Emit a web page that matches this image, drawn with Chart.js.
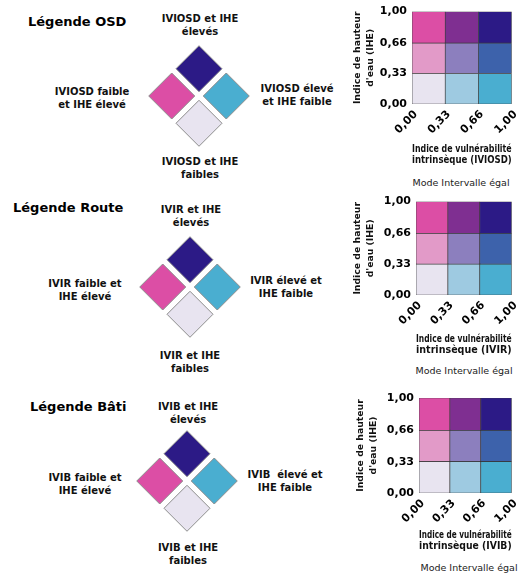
<!DOCTYPE html>
<html>
<head>
  <meta charset="UTF-8">
  <title>Légendes bivariées IVI / IHE</title>
  <script src="https://cdn.jsdelivr.net/npm/chart.js"></script>
  <style>
    body {
      margin: 0;
      background: #fff;
      font-family: 'DejaVu Sans', sans-serif;
    }
    #page {
      position: relative;
      width: 525px;
      height: 573px;
      overflow: hidden;
    }
    #page canvas, .txt {
      position: absolute;
    }
    .txt {
      transform: translate(-50%, -50%);
      white-space: pre;
      text-align: center;
      font-weight: bold;
      font-size: 10px;
      line-height: 13px;
      color: #111;
    }
    .titre {
      transform: translate(0, -50%);
      font-size: 13px;
      line-height: 16px;
      color: #000;
    }
    .mode {
      font-weight: normal;
      font-size: 9.5px;
      color: #222;
    }
  </style>
</head>
<body>
<div id="page"></div>

<script>
// données
const titres = ['Légende OSD', 'Légende Route', 'Légende Bâti'];
const indices = ['IVIOSD', 'IVIR', 'IVIB'];
const classesIVI = ['faible', 'moyen', 'élevé'];
const classesIHE = ['faible', 'moyen', 'élevé'];
const bornes = [0, 0.33, 0.66, 1.00];
const etiquettes = ['0,00', '0,33', '0,66', '1,00'];
// coins du losange : [classe IVI, classe IHE] -> haut, gauche, droite, bas
const coins = [[2, 2], [0, 2], [2, 0], [0, 0]];
const textesCoins = [
  [['IVIOSD et IHE', 'élevés'], ['IVIOSD faible', 'et IHE élevé'], ['IVIOSD élevé', 'et IHE faible'], ['IVIOSD et IHE', 'faibles']],
  [['IVIR et IHE', 'élevés'], ['IVIR faible et', 'IHE élevé'], ['IVIR élevé et', 'IHE faible'], ['IVIR et IHE', 'faibles']],
  [['IVIB et IHE', 'élevés'], ['IVIB faible et', 'IHE élevé'], ['IVIB  élevé et', 'IHE faible'], ['IVIB et IHE', 'faibles']]
];

// couleurs [IHE][IVI]
const palette = [
  ['#e8e4f0', '#9ecae1', '#4aaed0'],
  ['#e29ac8', '#8c7fbe', '#3d62ab'],
  ['#dc4ea5', '#7f2f91', '#2c1a86']
];

// mise en page de chaque bloc
const blocs = [
  { titre: [28, 22], coins: [[200, 25], [92, 98], [297, 95], [200, 168]], losange: [139, 36],
    grille: { top: 0, h: 190, axeY: 67, haut: 9, droite: 13, axeX: 86, padX: 24, padY: 7 }, mode: [461, 182] },
  { titre: [13, 208], coins: [[191, 216], [85, 290], [286, 287], [190, 362]], losange: [130, 227],
    grille: { top: 190, h: 190, axeY: 71, haut: 10, droite: 11, axeX: 85, padX: 24, padY: 7 }, mode: [464, 370] },
  { titre: [30, 407], coins: [[188, 413], [85, 484], [285, 481], [188, 554]], losange: [127, 421],
    grille: { top: 385, h: 188, axeY: 74, haut: 13, droite: 8, axeX: 80, padX: 21, padY: 10 }, mode: [469, 567] }
];

const page = document.getElementById('page');

function texte(contenu, x, y, cls) {
  const d = document.createElement('div');
  d.className = 'txt ' + (cls || '');
  d.textContent = contenu;
  d.style.left = x + 'px';
  d.style.top = y + 'px';
  page.appendChild(d);
}

function canevas(x, y, w, h) {
  const c = document.createElement('canvas');
  c.width = w; c.height = h;
  c.style.left = x + 'px';
  c.style.top = y + 'px';
  c.style.width = w + 'px';
  c.style.height = h + 'px';
  page.appendChild(c);
  return c.getContext('2d');
}

const police = 'DejaVu Sans';
const fixeTicks = axis => { axis.ticks = bornes.map(v => ({ value: v })); };

blocs.forEach((b, k) => {
  texte(titres[k], b.titre[0], b.titre[1], 'titre');
  textesCoins[k].forEach((lignes, i) => texte(lignes.join('\n'), b.coins[i][0], b.coins[i][1]));
  texte('Mode Intervalle égal', b.mode[0], b.mode[1], 'mode');

  // losange
  new Chart(canevas(b.losange[0], b.losange[1], 120, 120), {
    type: 'scatter',
    data: {
      datasets: [{
        data: coins.map(([ivi, ihe]) => ({ x: (ivi - ihe) / 2, y: (ivi + ihe) / 2 })),
        pointStyle: 'rectRot',
        pointRadius: 23,
        pointHoverRadius: 23,
        pointBackgroundColor: coins.map(([ivi, ihe]) => palette[ihe][ivi]),
        pointBorderColor: '#8c8c8c',
        pointBorderWidth: 1,
        clip: false
      }]
    },
    options: {
      responsive: false,
      animation: false,
      layout: { padding: 0, autoPadding: false },
      scales: {
        x: { display: false, min: -2.2, max: 2.2 },
        y: { display: false, min: -1.2, max: 3.2 }
      },
      plugins: { legend: { display: false }, tooltip: { enabled: false } }
    }
  });

  // grille 3 x 3
  const g = b.grille;
  new Chart(canevas(345, g.top, 180, g.h), {
    type: 'bar',
    data: {
      labels: classesIVI,
      datasets: classesIHE.map((c, j) => ({
        label: 'IHE ' + c,
        data: classesIVI.map(() => bornes[j + 1] - bornes[j]),
        backgroundColor: classesIVI.map((_, i) => palette[j][i]),
        borderColor: 'rgba(45, 45, 45, 0.9)',
        borderWidth: 0.7,
        borderSkipped: false,
        barPercentage: 1,
        categoryPercentage: 1
      }))
    },
    options: {
      responsive: false,
      animation: false,
      layout: { padding: { top: g.haut, right: g.droite, left: 0, bottom: 0 }, autoPadding: false },
      scales: {
        x: { stacked: true, display: false },
        x2: {
          type: 'linear',
          position: 'bottom',
          offset: false,
          min: 0, max: 1,
          afterBuildTicks: fixeTicks,
          afterFit: s => { s.height = g.axeX; },
          grid: { display: false, offset: false, drawTicks: false },
          border: { display: false },
          ticks: {
            minRotation: 45, maxRotation: 45, padding: 4, labelOffset: 4,
            color: '#000',
            font: { family: police, size: 11, weight: 'bold' },
            callback: (v, i) => etiquettes[i]
          },
          title: {
            display: true,
            text: ['Indice de vulnérabilité', 'intrinsèque (' + indices[k] + ')'],
            color: '#111',
            font: { family: police, size: 10, weight: 'bold', lineHeight: 1.1 },
            padding: { top: 0, bottom: g.padX }
          }
        },
        y: {
          stacked: true,
          min: 0, max: 1,
          afterBuildTicks: fixeTicks,
          afterFit: s => { s.width = g.axeY; },
          grid: { display: false, drawTicks: false },
          border: { display: false },
          ticks: {
            padding: 5,
            color: '#000',
            font: { family: police, size: 11, weight: 'bold' },
            callback: (v, i) => etiquettes[i]
          },
          title: {
            display: true,
            text: ['Indice de hauteur', "d'eau (IHE)"],
            color: '#111',
            font: { family: police, size: 9.3, weight: 'bold', lineHeight: 1.3 },
            padding: { top: g.padY, bottom: 0 }
          }
        }
      },
      plugins: { legend: { display: false }, tooltip: { enabled: false } }
    }
  });
});
</script>
</body>
</html>
